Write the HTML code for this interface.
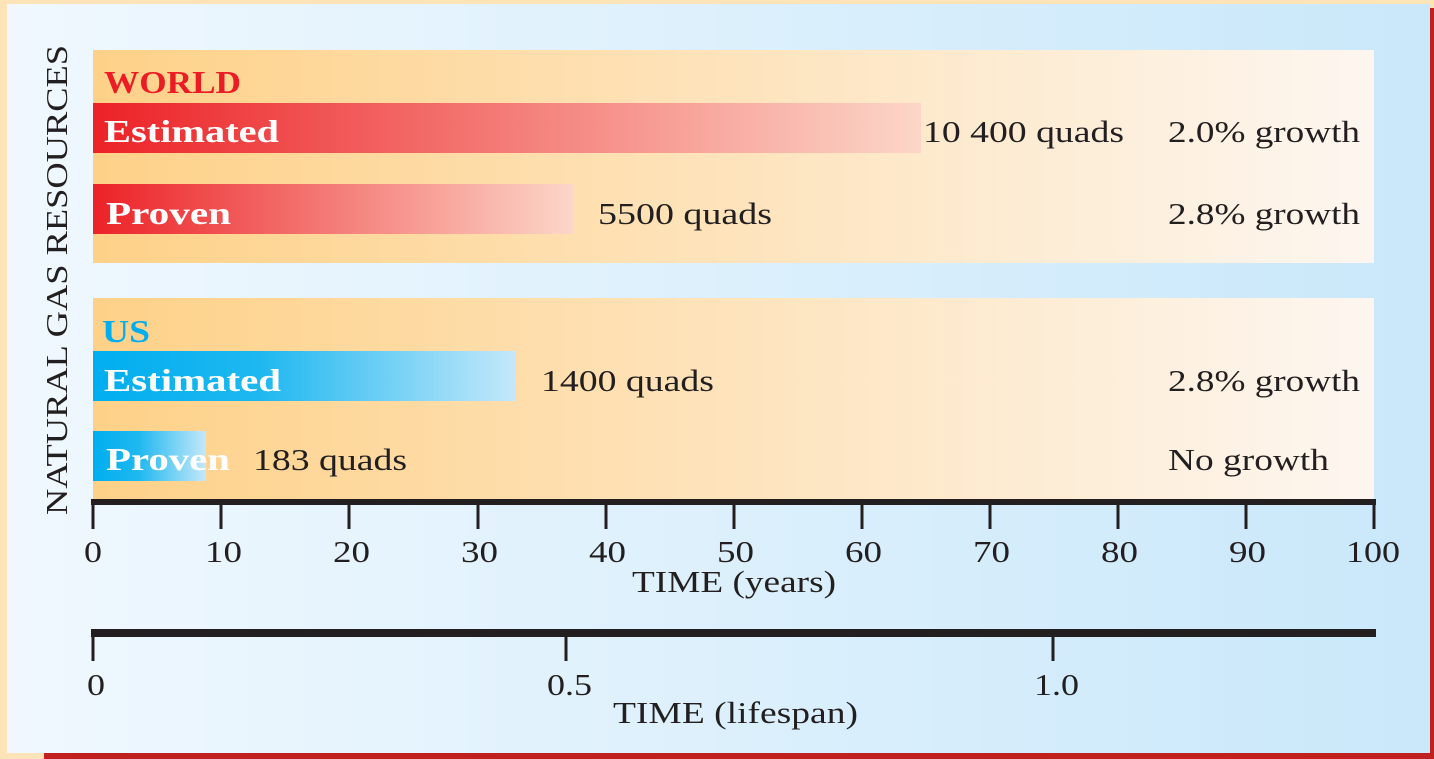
<!DOCTYPE html>
<html><head><meta charset="utf-8"><style>
html,body{margin:0;padding:0;width:1434px;height:759px;overflow:hidden;background:#fde3b8}
svg{display:block}
text{font-family:"Liberation Serif",serif;fill:#231f20}
</style></head><body>
<svg width="1434" height="759" viewBox="0 0 1434 759" xmlns="http://www.w3.org/2000/svg">
<defs>
<linearGradient id="bg" x1="0" x2="1"><stop offset="0" stop-color="#f0f8fe"/><stop offset="1" stop-color="#c9e8fa"/></linearGradient>
<linearGradient id="box" x1="0" x2="1"><stop offset="0" stop-color="#fed188"/><stop offset="1" stop-color="#fdf6f0"/></linearGradient>
<linearGradient id="red" x1="0" x2="1"><stop offset="0" stop-color="#ec2227"/><stop offset="1" stop-color="#fcd6c8"/></linearGradient>
<linearGradient id="blue" x1="0" x2="1"><stop offset="0" stop-color="#00aeef"/><stop offset="0.4" stop-color="#1fb8f0"/><stop offset="1" stop-color="#c4e8fa"/></linearGradient>
</defs>
<rect x="0" y="0" width="1434" height="759" fill="#fde3b8"/>
<rect x="44" y="8" width="1390" height="751" fill="#c0201e"/>
<rect x="7" y="4" width="1423" height="749" fill="url(#bg)"/>
<rect x="93" y="50" width="1281" height="213" fill="url(#box)"/>
<rect x="93" y="298" width="1281" height="203" fill="url(#box)"/>
<rect x="93" y="103" width="828" height="50" fill="url(#red)"/>
<rect x="93" y="184" width="480" height="50" fill="url(#red)"/>
<rect x="93" y="351" width="422" height="50" fill="url(#blue)"/>
<rect x="93" y="431" width="113" height="50" fill="url(#blue)"/>
<g font-size="32" font-weight="bold">
<text x="104" y="93" textLength="137" lengthAdjust="spacingAndGlyphs" style="fill:#ec1c24">WORLD</text>
<text x="104" y="142" textLength="175" lengthAdjust="spacingAndGlyphs" style="fill:#fff">Estimated</text>
<text x="106" y="224" textLength="125" lengthAdjust="spacingAndGlyphs" style="fill:#fff">Proven</text>
<text x="102" y="342" textLength="48" lengthAdjust="spacingAndGlyphs" style="fill:#00aeef">US</text>
<text x="104" y="391" textLength="177" lengthAdjust="spacingAndGlyphs" style="fill:#fff">Estimated</text>
<text x="106" y="470" textLength="124" lengthAdjust="spacingAndGlyphs" style="fill:#fff">Proven</text>
</g>
<g font-size="31">
<text x="923" y="142" textLength="201" lengthAdjust="spacingAndGlyphs">10 400 quads</text>
<text x="598" y="224" textLength="174" lengthAdjust="spacingAndGlyphs">5500 quads</text>
<text x="541" y="391" textLength="173" lengthAdjust="spacingAndGlyphs">1400 quads</text>
<text x="253" y="470" textLength="154" lengthAdjust="spacingAndGlyphs">183 quads</text>
<text x="1168" y="142" textLength="192" lengthAdjust="spacingAndGlyphs">2.0% growth</text>
<text x="1168" y="224" textLength="192" lengthAdjust="spacingAndGlyphs">2.8% growth</text>
<text x="1168" y="391" textLength="192" lengthAdjust="spacingAndGlyphs">2.8% growth</text>
<text x="1168" y="470" textLength="161" lengthAdjust="spacingAndGlyphs">No growth</text>
</g>
<text transform="translate(67,515) rotate(-90)" font-size="31" textLength="470" lengthAdjust="spacingAndGlyphs">NATURAL GAS RESOURCES</text>
<rect x="91" y="499" width="1285" height="6" fill="#231f20"/>
<g stroke="#231f20" stroke-width="3">
<line x1="93" y1="502" x2="93" y2="529"/><line x1="221" y1="502" x2="221" y2="529"/><line x1="349" y1="502" x2="349" y2="529"/><line x1="478" y1="502" x2="478" y2="529"/><line x1="606" y1="502" x2="606" y2="529"/><line x1="734" y1="502" x2="734" y2="529"/><line x1="862" y1="502" x2="862" y2="529"/><line x1="990" y1="502" x2="990" y2="529"/><line x1="1118" y1="502" x2="1118" y2="529"/><line x1="1246" y1="502" x2="1246" y2="529"/><line x1="1374" y1="502" x2="1374" y2="529"/>
</g>
<g font-size="31">
<text x="84" y="562" textLength="18" lengthAdjust="spacingAndGlyphs">0</text>
<text x="205" y="562" textLength="37" lengthAdjust="spacingAndGlyphs">10</text>
<text x="333" y="562" textLength="37" lengthAdjust="spacingAndGlyphs">20</text>
<text x="461" y="562" textLength="37" lengthAdjust="spacingAndGlyphs">30</text>
<text x="589" y="562" textLength="37" lengthAdjust="spacingAndGlyphs">40</text>
<text x="717" y="562" textLength="37" lengthAdjust="spacingAndGlyphs">50</text>
<text x="845" y="562" textLength="37" lengthAdjust="spacingAndGlyphs">60</text>
<text x="973" y="562" textLength="37" lengthAdjust="spacingAndGlyphs">70</text>
<text x="1101" y="562" textLength="37" lengthAdjust="spacingAndGlyphs">80</text>
<text x="1229" y="562" textLength="37" lengthAdjust="spacingAndGlyphs">90</text>
<text x="1346" y="562" textLength="54" lengthAdjust="spacingAndGlyphs">100</text>
</g>
<text x="632" y="592" font-size="31" textLength="204" lengthAdjust="spacingAndGlyphs">TIME (years)</text>
<rect x="91" y="629" width="1285" height="8" fill="#231f20"/>
<g stroke="#231f20" stroke-width="3">
<line x1="93" y1="633" x2="93" y2="661"/><line x1="566" y1="633" x2="566" y2="661"/><line x1="1053" y1="633" x2="1053" y2="661"/>
</g>
<g font-size="31">
<text x="87" y="695" textLength="18" lengthAdjust="spacingAndGlyphs">0</text>
<text x="547" y="695" textLength="45" lengthAdjust="spacingAndGlyphs">0.5</text>
<text x="1034" y="695" textLength="45" lengthAdjust="spacingAndGlyphs">1.0</text>
</g>
<text x="613" y="723" font-size="31" textLength="245" lengthAdjust="spacingAndGlyphs">TIME (lifespan)</text>
</svg>
</body></html>
